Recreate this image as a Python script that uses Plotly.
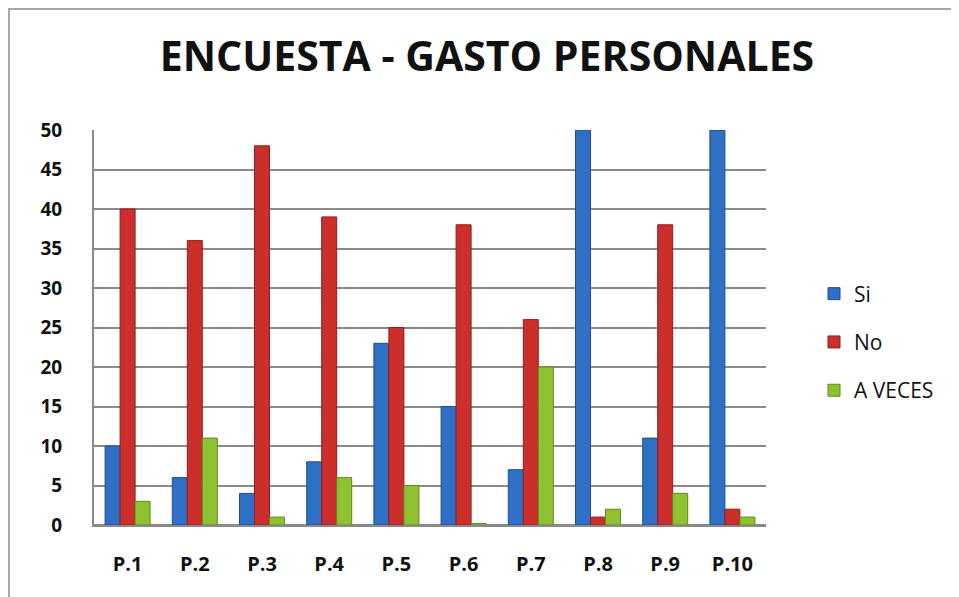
import plotly.graph_objects as go

categories = ["P.1", "P.2", "P.3", "P.4", "P.5", "P.6", "P.7", "P.8", "P.9", "P.10"]
si = [10, 6, 4, 8, 23, 15, 7, 50, 11, 50]
no = [40, 36, 48, 39, 25, 38, 26, 1, 38, 2]
a_veces = [3, 11, 1, 6, 5, 0.2, 20, 2, 4, 1]
y_ticks = [0, 5, 10, 15, 20, 25, 30, 35, 40, 45, 50]

series = [("Si", si, "#2f6fc6", "#1f4f92"),
          ("No", no, "#cc2f2b", "#8e1f1c"),
          ("A VECES", a_veces, "#8fc232", "#5f8a1e")]

fig = go.Figure()
for i, (name, vals, col, line) in enumerate(series):
    fig.add_trace(go.Bar(
        x=categories, y=vals, name=name, legendgroup=name,
        marker=dict(color=col, line=dict(color=line, width=1)),
    ))

font_family = "Open Sans, Liberation Sans, sans-serif"
W, H = 951, 589
L, R, T, B = 86, 193, 122, 72
pw, ph = W - L - R, H - T - B

fig.update_layout(
    width=W, height=H,
    paper_bgcolor="white", plot_bgcolor="white",
    margin=dict(l=L, r=R, t=T, b=B),
    barmode="group", bargap=0.33, bargroupgap=0,
    title=dict(text="<b>ENCUESTA - GASTO PERSONALES</b>",
               x=479 / W, xanchor="center", y=1 - 49 / H, yanchor="middle",
               font=dict(family=font_family, size=41, color="#111111")),
    legend=dict(x=(806 - L) / pw, xanchor="left", y=(517 - 334) / ph, yanchor="middle",
                font=dict(family=font_family, size=21, color="#111111"),
                tracegroupgap=18, itemwidth=30, bgcolor="rgba(0,0,0,0)"),
    xaxis=dict(showgrid=False, showline=True, linecolor="#8a8a8a", linewidth=2,
               tickfont=dict(family=font_family, size=20, color="#111111", weight=700),
               ticks="", ticklabelstandoff=20),
    yaxis=dict(range=[0, 50], tickvals=y_ticks,
               showgrid=True, gridcolor="#8a8a8a", gridwidth=2,
               zeroline=True, zerolinecolor="#8a8a8a", zerolinewidth=2,
               showline=True, linecolor="#8a8a8a", linewidth=2,
               tickfont=dict(family=font_family, size=19, color="#111111", weight=700),
               ticks="", ticklabelstandoff=26),
    shapes=[dict(type="rect", xref="paper", yref="paper",
                 x0=-(L - 1) / pw, x1=2, y0=-1, y1=1 + (T - 1) / ph,
                 line=dict(color="#a8a8a8", width=2))],
)
fig.write_html("out.html")
